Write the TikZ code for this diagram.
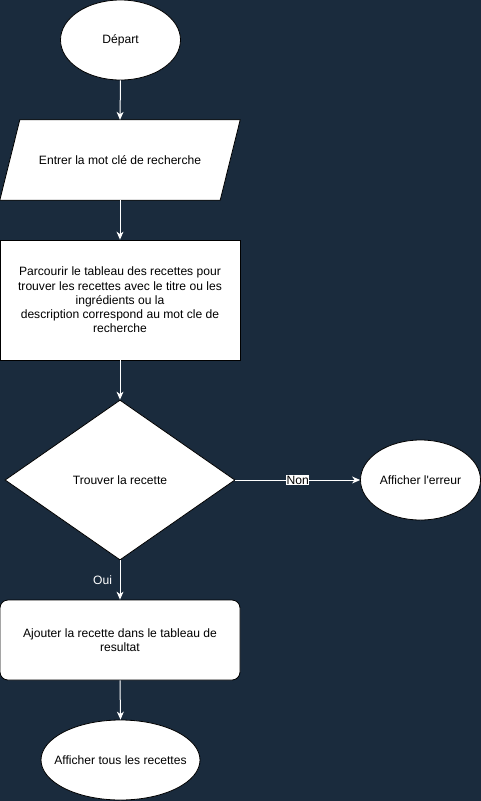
\documentclass[tikz,border=0pt]{standalone}
\usepackage{fontspec}
\setmainfont{Liberation Sans}[Ligatures=TeXOff]
\usetikzlibrary{shapes.geometric,arrows.meta,calc}
\definecolor{bgnavy}{HTML}{1A2B3D}
\tikzset{
  base/.style={fill=white,draw=black,line width=0.8pt,font=\fontsize{12.1}{14.3}\selectfont,text=black,align=center,inner sep=0pt},
  oval/.style={base,ellipse,minimum width=120,minimum height=80},
  procbox/.style={base,rectangle,minimum width=240,minimum height=120},
  roundbox/.style={base,rectangle,rounded corners=8pt,minimum width=240,minimum height=80},
  decision/.style={base,diamond,minimum width=230,minimum height=160},
  iobox/.style={rectangle,minimum width=200,minimum height=80,inner sep=0pt},
  txt/.style={font=\fontsize{12.1}{14.3}\selectfont,text=black,align=center,inner sep=0pt},
  conn/.style={draw=white,line width=1pt,-{Stealth[length=8pt,width=7pt,inset=2.5pt]}},
  lbl/.style={font=\fontsize{12.1}{14.3}\selectfont,inner sep=0.5pt}
}
\begin{document}
\begin{tikzpicture}[x=1pt,y=-1pt]
\useasboundingbox (0,0) rectangle (481,801);
\fill[bgnavy] (0,0) rectangle (481,801);
\node[oval] (start) at (120.5,40) {Départ};
\node[iobox] (in) at (120,160) {};
\path[fill=white,draw=black,line width=0.8pt] (in.north west) -- ($(in.north east)+(20,0)$) -- (in.south east) -- ($(in.south west)+(-20,0)$) -- cycle;
\node[txt] (intext) at (in.center) {Entrer la mot clé de recherche};
\node[procbox] (scan) at (120,300) {Parcourir le tableau des recettes pour\\trouver les recettes avec le titre ou les\\ingrédients ou la\\description correspond au mot cle de\\recherche};
\node[decision] (dec) at (120,480) {Trouver la recette};
\node[oval] (err) at (420.5,480) {};
\node[txt] (errtext) at (err.center) {Afficher l'erreur};
\node[roundbox] (add) at (120,640) {Ajouter la recette dans le tableau de\\resultat};
\node[oval,minimum width=159] (show) at (120.5,760) {};
\node[txt] (showtext) at (show.center) {Afficher tous les recettes};
\draw[conn] (start.south) -- (in.north);
\draw[conn] (in.south) -- (scan.north);
\draw[conn] (scan.south) -- (dec.north);
\draw[conn] (dec.east) -- node[lbl,fill=white,text=black] {Non} (err.west);
\draw[conn] (dec.south) -- node[lbl,text=white,left=7pt] {Oui} (add.north);
\draw[conn] (add.south) -- (show.north);
\end{tikzpicture}
\end{document}
